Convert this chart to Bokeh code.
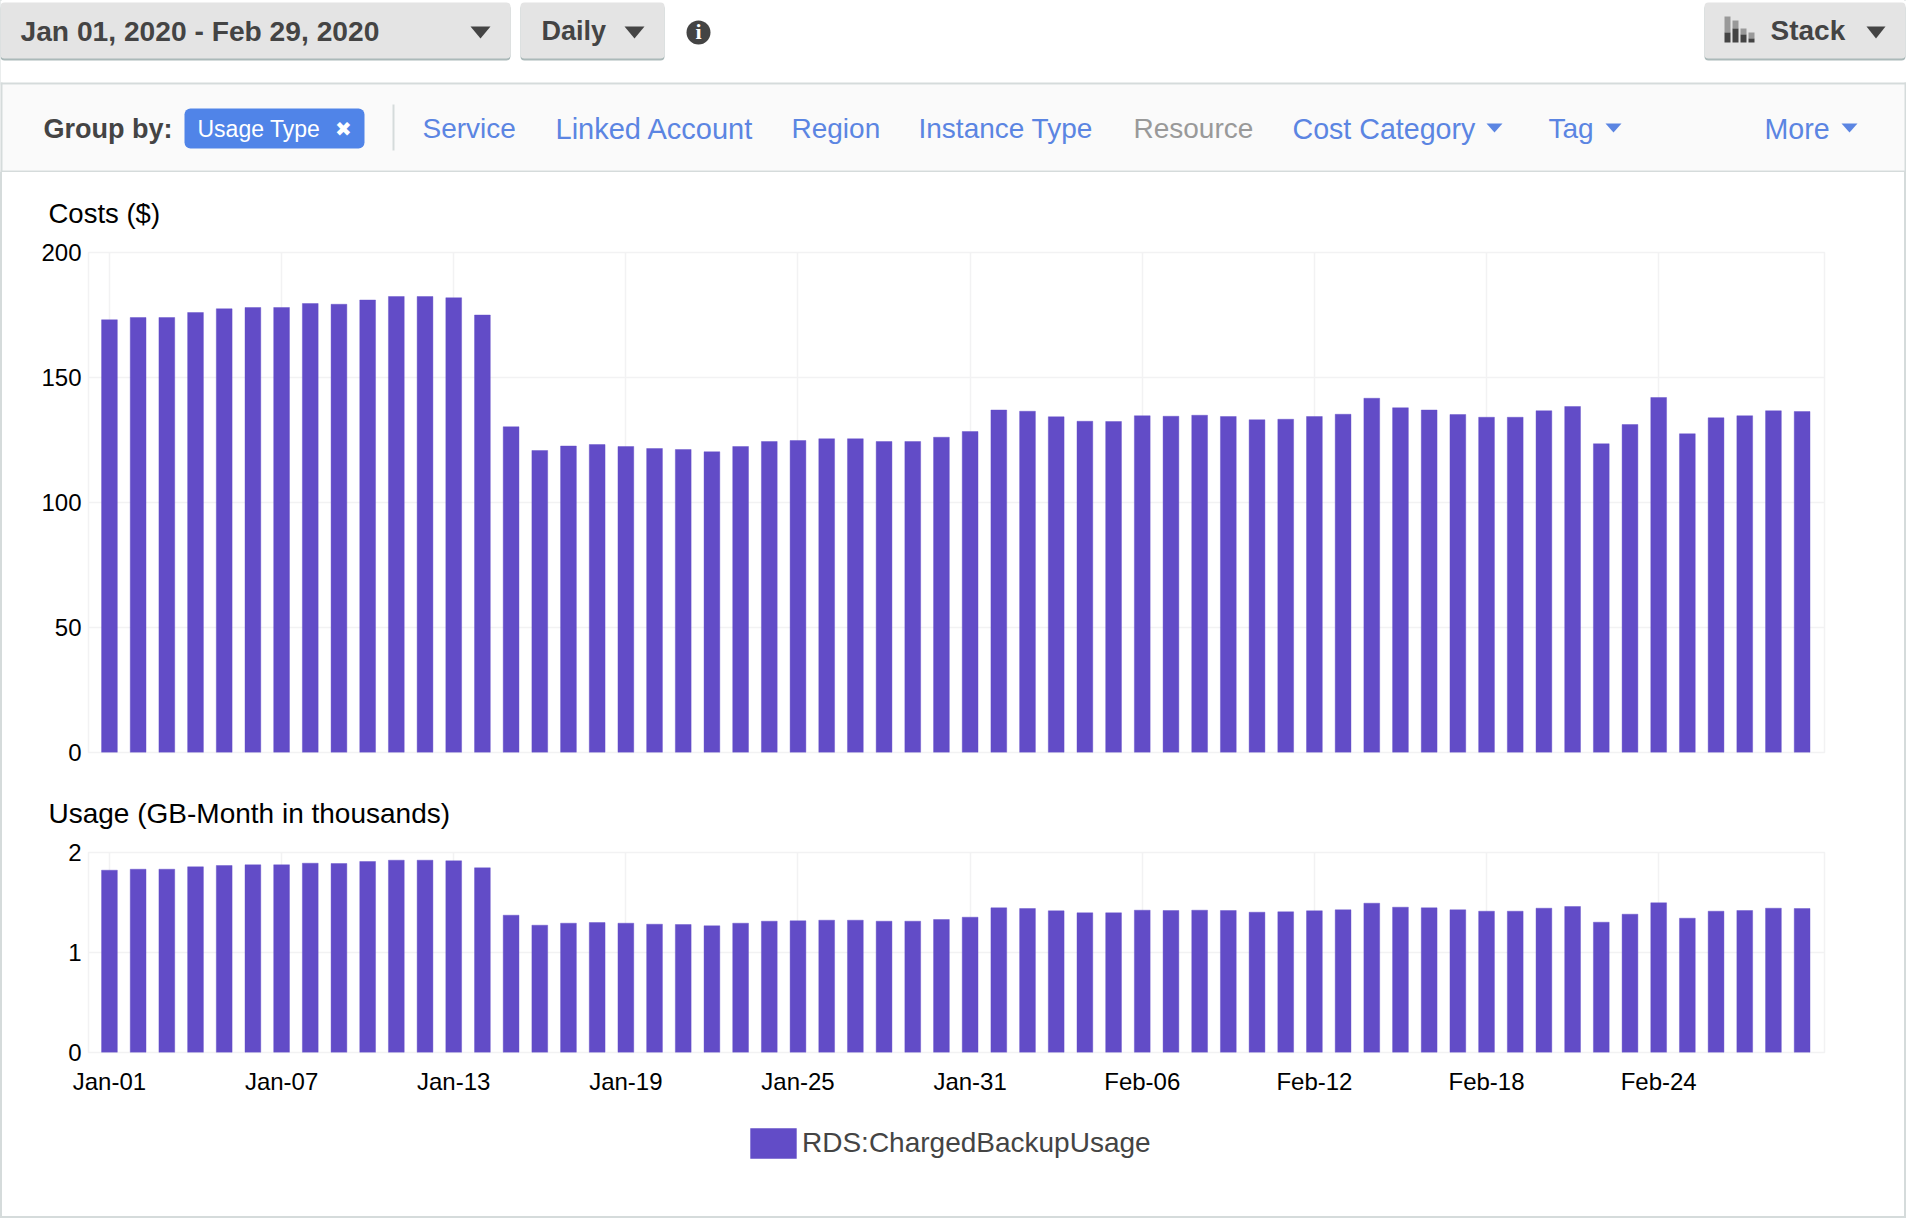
from bokeh.plotting import figure
from bokeh.layouts import column
from bokeh.core.properties import value
from bokeh.models import Range1d, FixedTicker, Title, Legend, LegendItem
from bokeh.embed import file_html
from bokeh.resources import INLINE

days = [f"Jan-{d:02d}" for d in range(1, 32)] + [f"Feb-{d:02d}" for d in range(1, 30)]
costs = [173.1, 174.0, 174.0, 176.0, 177.5, 178.0, 178.0, 179.6, 179.3, 181.0,
         182.4, 182.4, 181.9, 175.0, 130.3, 120.8, 122.6, 123.2, 122.4, 121.6,
         121.2, 120.3, 122.4, 124.4, 124.8, 125.5, 125.5, 124.4, 124.4, 126.1,
         128.4, 137.0, 136.5, 134.3, 132.5, 132.4, 134.7, 134.5, 134.9, 134.4,
         133.1, 133.3, 134.4, 135.3, 141.7, 137.9, 137.0, 135.2, 134.1, 134.1,
         136.7, 138.4, 123.5, 131.2, 142.0, 127.5, 133.9, 134.7, 136.7, 136.4]
usage = [1.823, 1.833, 1.833, 1.857, 1.870, 1.877, 1.877, 1.893, 1.890, 1.910,
         1.923, 1.923, 1.917, 1.847, 1.373, 1.273, 1.293, 1.300, 1.293, 1.283,
         1.280, 1.267, 1.293, 1.313, 1.317, 1.323, 1.323, 1.313, 1.313, 1.330,
         1.353, 1.447, 1.440, 1.417, 1.397, 1.397, 1.423, 1.420, 1.423, 1.420,
         1.403, 1.407, 1.417, 1.427, 1.493, 1.453, 1.447, 1.427, 1.413, 1.413,
         1.443, 1.460, 1.303, 1.383, 1.497, 1.343, 1.413, 1.420, 1.443, 1.440]
cost_ticks = [0, 50, 100, 150, 200]
usage_ticks = [0, 1, 2]
series_name = "RDS:ChargedBackupUsage"
x = list(range(len(days)))
tick_idx = x[::6][:10]

FONT = "Liberation Sans"
BAR = "#624CC7"
GRID = "#f2f2f3"
BORDER = "#d5dbdb"
DARK = "#444444"
LINK = "#5b85e2"
W = 1906
IW = W - 4
CH = 172
SPLIT = 768


def make(height, top, bottom, vals, yr, ticks, title, title_size):
    p = figure(width=IW, height=height, output_backend="svg", toolbar_location=None,
               x_range=Range1d(-0.73, 59.78), y_range=Range1d(0, yr),
               min_border_left=86, min_border_right=1904 - 1824,
               min_border_top=top, min_border_bottom=bottom, margin=(0, 2, 0, 2),
               background_fill_color="white", border_fill_color="white",
               outline_line_color=GRID, outline_line_width=1.5, frame_align=False)
    p.title = Title(text=title, text_font=FONT, text_font_size=title_size,
                    text_font_style="normal", text_color="#000000", offset=-40, standoff=47)
    p.vbar(x=x, top=vals, width=0.55, fill_color=BAR, line_color=BAR, line_alpha=0.4,
           line_width=1, bottom=0)
    p.yaxis.ticker = FixedTicker(ticks=ticks)
    p.xaxis.ticker = FixedTicker(ticks=tick_idx)
    p.xaxis.major_label_overrides = {i: days[i] for i in tick_idx}
    for ax in (p.xaxis[0], p.yaxis[0]):
        ax.axis_line_color = None
        ax.major_tick_line_color = None
        ax.minor_tick_line_color = None
        ax.major_label_text_font = FONT
        ax.major_label_text_font_size = "24px"
        ax.major_label_text_color = "#000000"
    p.yaxis.major_label_standoff = 1
    p.xaxis.major_label_standoff = 9
    p.xgrid.grid_line_color = GRID
    p.ygrid.grid_line_color = GRID
    p.xgrid.grid_line_width = 1.5
    p.ygrid.grid_line_width = 1.5
    return p


# chrome figure: page furniture, drawn in its own pixel scale
p0 = figure(width=W, height=CH, output_backend="svg", toolbar_location=None,
            x_range=Range1d(0, W), y_range=Range1d(CH, 0), min_border=0,
            outline_line_color=None, x_axis_type=None, y_axis_type=None, frame_align=False)
p0.xgrid.visible = False
p0.ygrid.visible = False


def box(x0, x1, y0, y1, color, radius=0):
    p0.quad(left=x0, right=x1, top=y0, bottom=y1, fill_color=color, line_color=None,
            border_radius=radius)


def tri(x0, x1, y0, y1, color):
    p0.patch(x=[x0, x1, (x0 + x1) / 2], y=[y0, y0, y1], fill_color=color, line_color=None)


def text(x0, y, s, size, color=DARK, style="normal", font=FONT, align="left"):
    p0.text(x=[x0], y=[y], text=[s], text_font=value(font), text_font_size=f"{size}px",
            text_font_style=style, text_color=color, text_baseline="alphabetic",
            text_align=align)


box(0, W, 84, 170, "#fafafa")
box(0, W, 82, 84, BORDER)
box(0, W, 170, 172, BORDER)
box(0, 2, 82, 172, BORDER)
box(W - 2, W, 82, 172, BORDER)

for x0, x1 in [(0, 510), (520, 664), (1704, 1905)]:
    box(x0, x1, 4, 60, "#abb9b9", radius=4)
    box(x0, x1, 2, 58, "#e4e4e4", radius=4)
text(20, 30, "Jan 01, 2020 - Feb 29, 2020", 28.2, style="bold")
tri(470, 490, 26, 38, DARK)
text(541, 30, "Daily", 27, style="bold")
tri(624, 644, 26, 38, DARK)
box(686, 710, 20, 44, DARK, radius=12)
text(698, 31, "i", 22, color="#ffffff", style="bold", font="Liberation Serif", align="center")
for x0, top, mid in [(1724, 16, 32), (1732, 20, 28), (1740, 28, 34), (1748, 32, 38)]:
    box(x0, x0 + 6, top, mid, "#999999")
    box(x0, x0 + 6, mid, 42, DARK)
text(1770, 30, "Stack", 28, style="bold")
tri(1866, 1885, 26, 38, DARK)

text(43, 128, "Group by:", 27, style="bold")
box(184, 364, 108, 148, "#5084e8", radius=6)
text(197, 128, "Usage Type", 23, color="#ffffff")
text(343, 128, "\u2716", 20, color="#ffffff", font="DejaVu Sans", align="center")
box(392, 394, 104, 150, BORDER)
for x0, s, c, size in [(422, "Service", LINK, 28), (555, "Linked Account", LINK, 29),
                       (791, "Region", LINK, 28), (918, "Instance Type", LINK, 28),
                       (1133, "Resource", "#999999", 28), (1292, "Cost Category", LINK, 28.6),
                       (1548, "Tag", LINK, 28), (1764, "More", LINK, 28.6)]:
    text(x0, 128, s, size, color=c)
for x0 in (1486, 1605, 1841):
    tri(x0, x0 + 16, 123, 132, LINK)

p1 = make(SPLIT - CH, 252 - CH, SPLIT - 752, costs, 200, cost_ticks, "Costs ($)", "27.5px")
p1.xaxis.visible = False
p2 = make(1100 - SPLIT, 852 - SPLIT, 1100 - 1052, usage, 2, usage_ticks,
          "Usage (GB-Month in thousands)", "28px")

# legend strip: a zero-sized bar supplies the swatch's colour
p3 = figure(width=IW, height=116, output_backend="svg", toolbar_location=None,
            x_range=Range1d(0, IW), y_range=Range1d(0, 116), min_border=0, margin=(0, 2, 2, 2),
            outline_line_color=None, x_axis_type=None, y_axis_type=None, frame_align=False)
p3.xgrid.visible = False
p3.ygrid.visible = False
handle = p3.vbar(x=[0], top=[0], bottom=[0], width=0, fill_color=BAR, line_color=None)
legend = Legend(items=[LegendItem(label=series_name, renderers=[handle])],
                location=(742, 54), orientation="horizontal",
                background_fill_alpha=0, border_line_color=None,
                glyph_width=58, glyph_height=38, label_text_font=FONT,
                label_text_font_size="28px", label_text_color=DARK,
                padding=0, margin=0, spacing=0, label_standoff=0)
p3.add_layout(legend, "center")

strips = (f"linear-gradient(to right,{BORDER} 2px,transparent 2px,transparent 1904px,{BORDER} 1904px),"
          f"linear-gradient(to top,{BORDER} 2px,transparent 2px)")
page = column(p0, p1, p2, p3, spacing=0,
              styles={"position": "absolute", "left": "0px", "top": "0px",
                      "background-image": strips})
open("out.html", "w").write(file_html(page, INLINE))
